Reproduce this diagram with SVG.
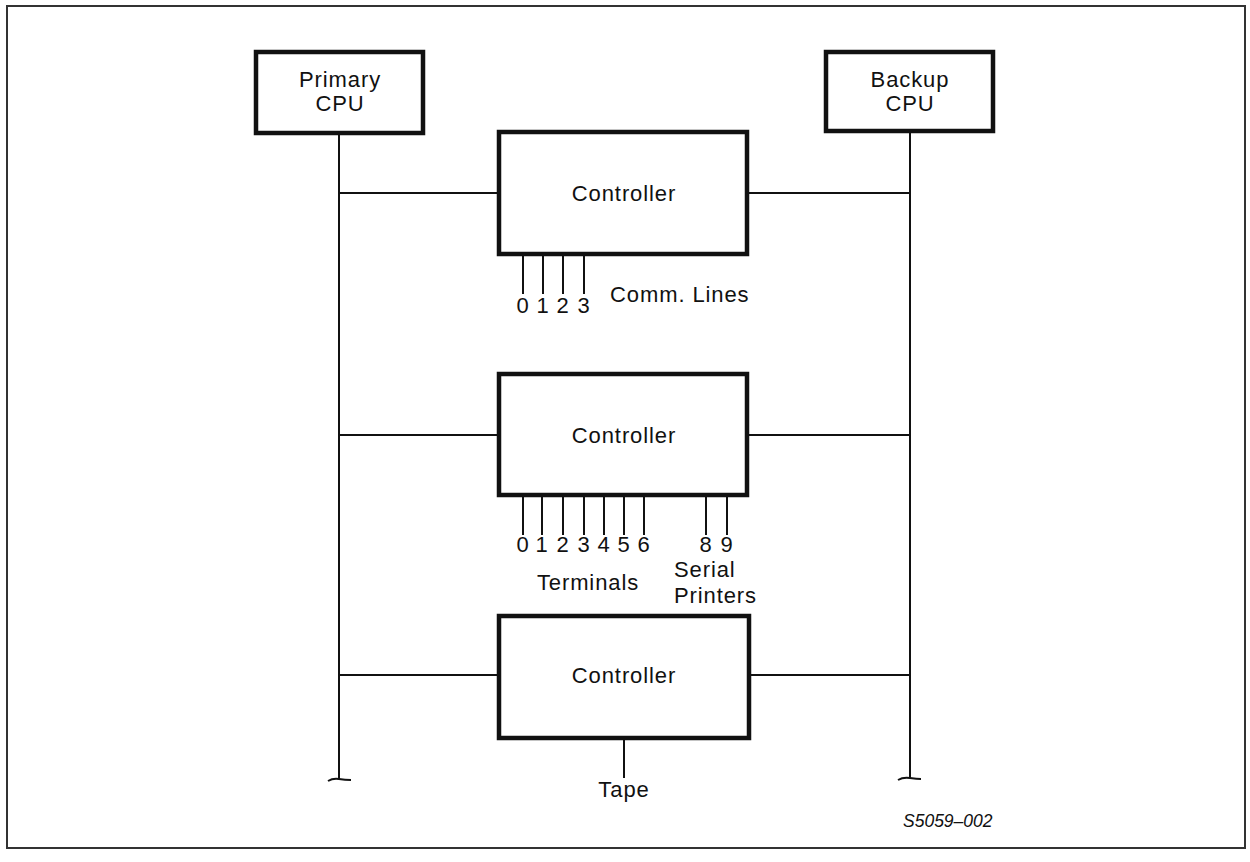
<svg xmlns="http://www.w3.org/2000/svg" width="1250" height="862" viewBox="0 0 1250 862">
<style>
.box{fill:#fff;stroke:#111;stroke-width:4.5}
.ln{stroke:#111;stroke-width:2;fill:none}
.t{font-family:"Liberation Sans",Arial,sans-serif;font-size:22px;fill:#111;letter-spacing:0.9px}
.c{text-anchor:middle}
</style>
<rect x="0" y="0" width="1250" height="862" fill="#fff"/>
<rect x="7" y="6" width="1238" height="842" fill="none" stroke="#333" stroke-width="2"/>
<g id="connectors">
<line class="ln" x1="339" y1="133" x2="339" y2="779"/>
<path class="ln" d="M328,781 q5,-3 11,-2 t12,1" stroke-width="3"/>
<line class="ln" x1="910" y1="131" x2="910" y2="778"/>
<path class="ln" d="M898,780 q5,-3 12,-2 t11,1" stroke-width="3"/>
<line class="ln" x1="339" y1="193" x2="499" y2="193"/>
<line class="ln" x1="747" y1="193" x2="910" y2="193"/>
<line class="ln" x1="339" y1="435" x2="499" y2="435"/>
<line class="ln" x1="747" y1="435" x2="910" y2="435"/>
<line class="ln" x1="339" y1="675" x2="499" y2="675"/>
<line class="ln" x1="749" y1="675" x2="910" y2="675"/>
<line class="ln" x1="523" y1="254" x2="523" y2="294"/>
<line class="ln" x1="543" y1="254" x2="543" y2="294"/>
<line class="ln" x1="563" y1="254" x2="563" y2="294"/>
<line class="ln" x1="584" y1="254" x2="584" y2="294"/>
<line class="ln" x1="523" y1="495" x2="523" y2="535"/>
<line class="ln" x1="542" y1="495" x2="542" y2="535"/>
<line class="ln" x1="563" y1="495" x2="563" y2="535"/>
<line class="ln" x1="584" y1="495" x2="584" y2="535"/>
<line class="ln" x1="604" y1="495" x2="604" y2="535"/>
<line class="ln" x1="624" y1="495" x2="624" y2="535"/>
<line class="ln" x1="644" y1="495" x2="644" y2="535"/>
<line class="ln" x1="706" y1="495" x2="706" y2="535"/>
<line class="ln" x1="727" y1="495" x2="727" y2="535"/>
<line class="ln" x1="624" y1="738" x2="624" y2="778"/>
</g>
<g id="primary-cpu">
<rect class="box" x="256" y="52" width="167" height="81"/>
<text class="t c" x="340" y="87">Primary<tspan x="340" dy="24">CPU</tspan></text>
</g>
<g id="backup-cpu">
<rect class="box" x="826" y="52" width="167" height="79"/>
<text class="t c" x="910" y="87">Backup<tspan x="910" dy="24">CPU</tspan></text>
</g>
<g id="controller-1">
<rect class="box" x="499" y="132" width="248" height="122"/>
<text class="t c" x="624" y="201">Controller</text>
</g>
<g id="comm-lines">
<text class="t c" x="523" y="313">0</text>
<text class="t c" x="543" y="313">1</text>
<text class="t c" x="563" y="313">2</text>
<text class="t c" x="584" y="313">3</text>
<text class="t" x="610" y="302">Comm. Lines</text>
</g>
<g id="controller-2">
<rect class="box" x="499" y="374" width="248" height="121"/>
<text class="t c" x="624" y="443">Controller</text>
</g>
<g id="terminals">
<text class="t c" x="523" y="552">0</text>
<text class="t c" x="542" y="552">1</text>
<text class="t c" x="563" y="552">2</text>
<text class="t c" x="584" y="552">3</text>
<text class="t c" x="604" y="552">4</text>
<text class="t c" x="624" y="552">5</text>
<text class="t c" x="644" y="552">6</text>
<text class="t c" x="706" y="552">8</text>
<text class="t c" x="727" y="552">9</text>
<text class="t c" x="588" y="590">Terminals</text>
<text class="t" x="674" y="577">Serial</text>
<text class="t" x="674" y="603">Printers</text>
</g>
<g id="controller-3">
<rect class="box" x="499" y="616" width="250" height="122"/>
<text class="t c" x="624" y="683">Controller</text>
</g>
<g id="tape">
<text class="t c" x="624" y="797">Tape</text>
</g>
<text x="903" y="827" font-family="Liberation Sans,Arial,sans-serif" font-size="17.5" font-style="italic" fill="#111">S5059–002</text>
</svg>
